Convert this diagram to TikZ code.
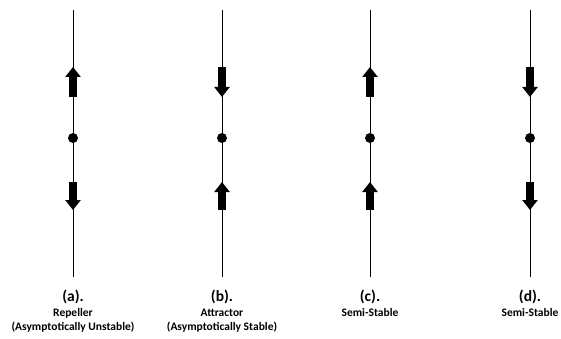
\documentclass[tikz,border=0pt]{standalone}
\usepackage{fontspec}
\setmainfont{Carlito}
\usetikzlibrary{arrows.meta}
\begin{document}
\begin{tikzpicture}[x=1pt,y=-1pt,
  axisline/.style={line width=1pt},
  eqdot/.style={circle,fill=black,inner sep=0pt,minimum size=10pt},
  fatarrow/.style={line width=8pt,-{Triangle[width=15pt,length=10pt]}},
  caption/.style={font=\bfseries\fontsize{15.5}{18}\selectfont,anchor=center,inner sep=0pt},
  subcap/.style={font=\bfseries\fontsize{11.5}{14}\selectfont,align=center,anchor=north,inner sep=0pt}]
\useasboundingbox (0,0) rectangle (561,339);
\foreach \n/\x in {a/73,b/222,c/370,d/530}{
  \coordinate (top\n) at (\x,10);
  \coordinate (bot\n) at (\x,277);
  \draw[axisline] (top\n) -- (bot\n);
  \node[eqdot] (dot\n) at (\x,138) {};
  \coordinate (u1\n) at (\x,97);
  \coordinate (u2\n) at (\x,67);
  \coordinate (l1\n) at (\x,182);
  \coordinate (l2\n) at (\x,210);
}
% (a) repeller
\draw[fatarrow] (u1a) -- (u2a);
\draw[fatarrow] (l1a) -- (l2a);
% (b) attractor
\draw[fatarrow] (u2b) -- (u1b);
\draw[fatarrow] (l2b) -- (l1b);
% (c) semi-stable up
\draw[fatarrow] (u1c) -- (u2c);
\draw[fatarrow] (l2c) -- (l1c);
% (d) semi-stable down
\draw[fatarrow] (u2d) -- (u1d);
\draw[fatarrow] (l1d) -- (l2d);
% captions
\node[caption] (capa) at (73,297) {(a).};
\node[subcap] (suba) at (73,308.5) {Repeller\\(Asymptotically Unstable)};
\node[caption] (capb) at (222,297) {(b).};
\node[subcap] (subb) at (222,308.5) {Attractor\\(Asymptotically Stable)};
\node[caption] (capc) at (370,297) {(c).};
\node[subcap] (subc) at (370,308.5) {Semi-Stable};
\node[caption] (capd) at (530,297) {(d).};
\node[subcap] (subd) at (530,308.5) {Semi-Stable};
\end{tikzpicture}
\end{document}
